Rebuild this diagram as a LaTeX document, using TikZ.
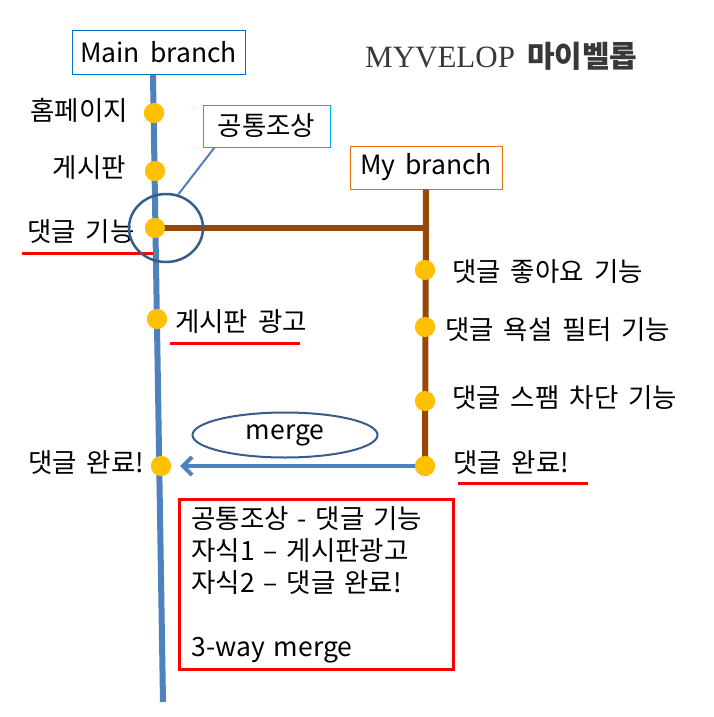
\documentclass[tikz,border=0pt]{standalone}
\usepackage{fontspec}
\setmainfont{Noto Sans CJK KR}
\newfontfamily\titulo{Liberation Serif}
\usetikzlibrary{positioning,arrows.meta,shapes.geometric}
\definecolor{azulrama}{HTML}{4F81BD}
\definecolor{azulcaja}{HTML}{0070C0}
\definecolor{celeste}{HTML}{00B0F0}
\definecolor{marron}{HTML}{974806}
\definecolor{naranja}{HTML}{E46C0A}
\definecolor{punto}{HTML}{FFC000}
\definecolor{oscuro}{HTML}{385D8A}
\definecolor{rojo}{HTML}{FF0000}
\newcommand\espacio{\spaceskip=10pt plus 2pt minus 2pt\relax}

\begin{document}
\begin{tikzpicture}[x=1pt,y=-1pt,
      font=\fontsize{26.5}{30}\selectfont\espacio,
      caja/.style={draw=#1,line width=1pt,inner sep=0pt,minimum height=43pt},
      commit/.style={circle,fill=punto,inner sep=0pt,minimum size=20pt},
      etq/.style={inner sep=0pt},
      rama/.style={draw=azulrama,line width=6pt},
      ramamia/.style={draw=marron,line width=6pt},
      subraya/.style={draw=rojo,line width=3pt},
      fl/.style={-{Straight Barb[length=9pt,width=18pt]},draw=azulrama,line width=4pt},
      marca/.style={draw=oscuro,line width=2.5pt,ellipse,inner sep=0pt}]
    \useasboundingbox[fill=white] (0,0) rectangle (714,717);
    % titulo
    \node[etq,text=black!78,anchor=west] (tit) at (365,56)
      {{\titulo\fontsize{31}{34}\selectfont MYVELOP}\hspace{12pt}{\bfseries\fontsize{30}{32}\selectfont 마이벨롭}};
    % ramas
    \node[caja=azulcaja,minimum width=173pt] (mb) at (158.5,52.5) {Main branch};
    \node[caja=naranja,minimum width=152pt] (myb) at (426,167.5) {My branch};
    \coordinate (maintop) at (153,75);
    \coordinate (mainend) at (163,702);
    \draw[rama] (maintop) -- (mainend);
    % commits
    \node[commit] (c1) at (154,113) {};
    \node[commit] (c2) at (155,171) {};
    \node[commit] (c3) at (155,228) {};
    \node[commit] (c4) at (157,319) {};
    \node[commit] (c5) at (161,466) {};
    \node[commit] (b1) at (425,270) {};
    \node[commit] (b2) at (425,327) {};
    \node[commit] (b3) at (425,401) {};
    \node[commit] (b4) at (425,466) {};
    \coordinate (esq) at (425,228);
    \draw[ramamia] (c3.center) -- (esq);
    \draw[ramamia] (myb.south) -- (b4.center);
    \draw[fl,shorten >=9pt] (b4.center) -- (c5);
    \foreach \n in {c1,c2,c3,c4,c5,b1,b2,b3,b4}
      \fill[punto] (\n) circle (10pt);
    % etiquetas
    \node[etq,anchor=east] (l1) at (128,110) {홈페이지};
    \node[etq,anchor=east] (l2) at (126,168) {게시판};
    \node[etq,anchor=west] (l3) at (27,232) {댓글 기능};
    \node[etq,anchor=west] (l4) at (175,322) {게시판 광고};
    \node[etq,anchor=west] (l5) at (28,463) {댓글 완료!};
    \node[etq,anchor=west] (r1) at (452,272) {댓글 좋아요 기능};
    \node[etq,anchor=west] (r2) at (445,330) {댓글 욕설 필터 기능};
    \node[etq,anchor=west] (r3) at (452,398) {댓글 스팸 차단 기능};
    \node[etq,anchor=west] (r4) at (453,463) {댓글 완료!};
    \draw[subraya] (22,253) -- (153,253);
    \draw[subraya] (170,343) -- (300,343);
    \draw[subraya] (458,483) -- (588,483);
    % ancestro comun
    \node[marca,minimum width=74pt,minimum height=68pt] (circ) at (166,228) {};
    \node[caja=celeste,minimum width=127pt,minimum height=42pt] (anc) at (266.5,126) {공통조상};
    \draw[azulrama,line width=2pt] ([xshift=12pt]anc.south west) -- (circ.70);
    % merge
    \node[marca,line width=2pt,minimum width=185pt,minimum height=45pt] (mrg) at (285,435) {merge};
    \node[draw=rojo,line width=3pt,anchor=north west,minimum width=274pt,minimum height=170pt,
          text width=250pt,align=left,inner xsep=11pt,
          font=\fontsize{26.5}{32}\selectfont\espacio] (nota) at (178,498)
      {공통조상 - 댓글 기능\\ 자식1 – 게시판광고\\ 자식2 – 댓글 완료!\\ \mbox{}\\ 3-way merge};
  \end{tikzpicture}
\end{document}
